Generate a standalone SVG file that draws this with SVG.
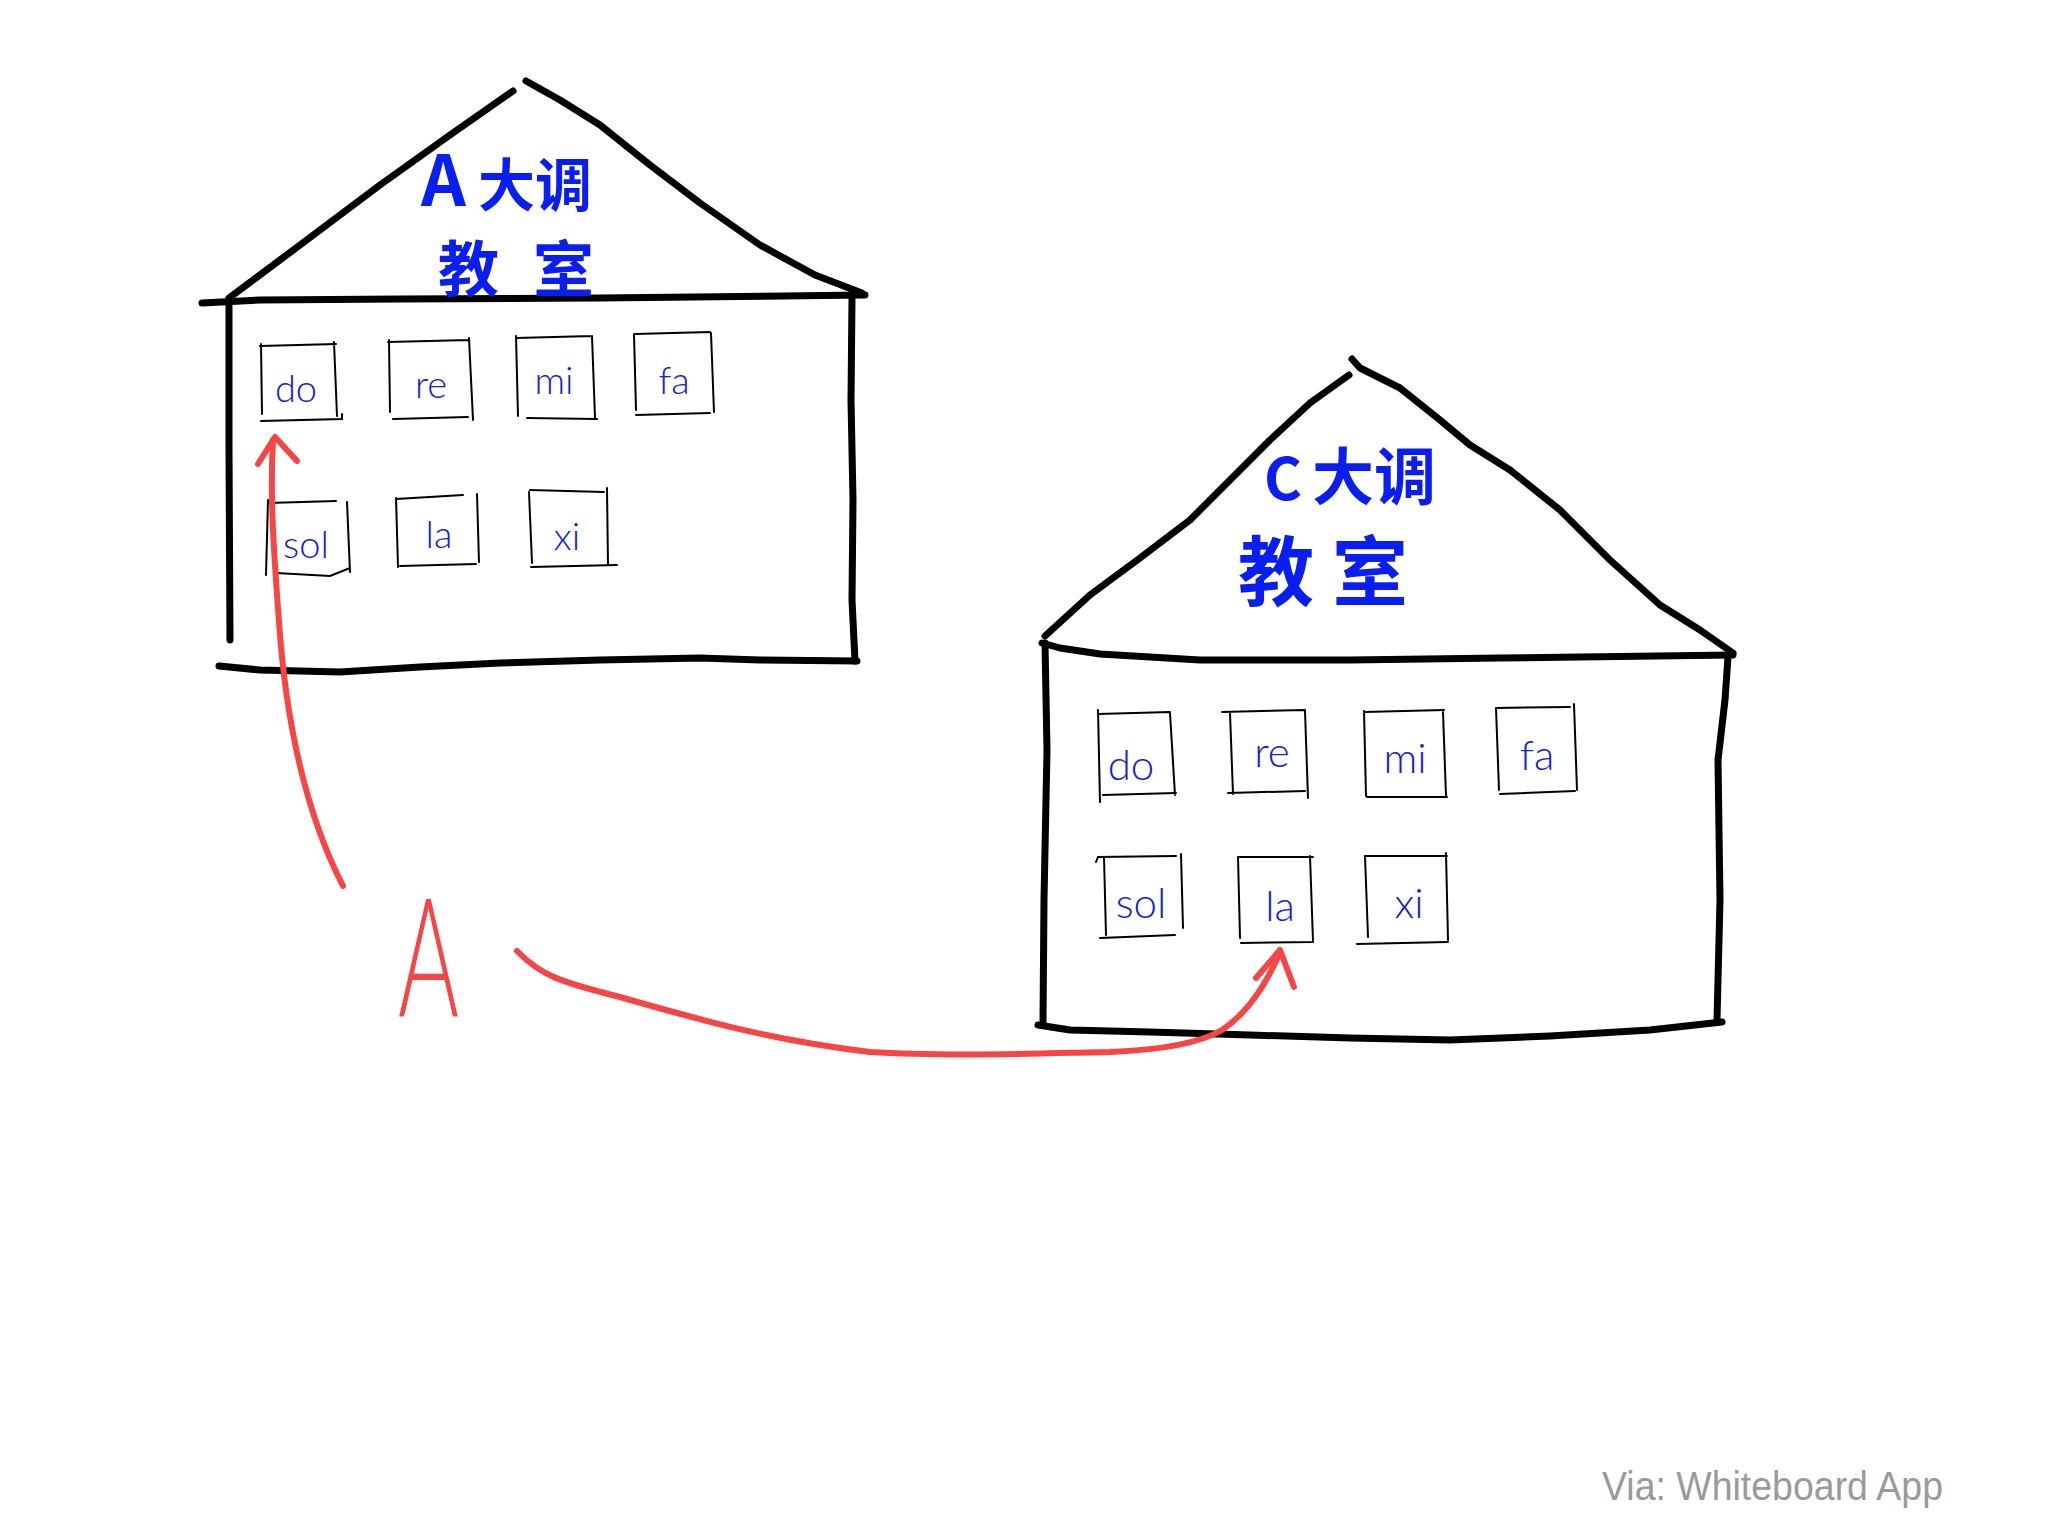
<svg xmlns="http://www.w3.org/2000/svg" width="2048" height="1536" viewBox="0 0 2048 1536">
<style>
.wall{fill:none;stroke:#000;stroke-width:7;stroke-linecap:round;stroke-linejoin:round}
.nb{fill:none;stroke:#000;stroke-width:2;stroke-linecap:round}
.title{font-family:"Noto Sans CJK SC","Noto Sans",sans-serif;font-weight:700;fill:#0b1ef0}
.note{font-family:Lato,"Open Sans","Liberation Sans",sans-serif;font-weight:300;fill:#1020e0;text-anchor:middle}
.red{fill:none;stroke:#f54545;stroke-width:6;stroke-linecap:round;stroke-linejoin:round}
</style>
<rect width="2048" height="1536" fill="#fff"/>

<g id="houseA">
  <path class="wall" d="M229,298 L300,245 L380,185 L450,135 L513,91"/>
  <path class="wall" d="M526,81 L560,100 L600,125 L650,165 L700,203 L760,245 L815,275 L862,293"/>
  <path class="wall" d="M202,303 L260,300 L400,299 L600,298 L865,295"/>
  <path class="wall" d="M229,300 L229,450 L230,640"/>
  <path class="wall" d="M852,298 L851,400 L853,500 L852,600 L855,661"/>
  <path class="wall" d="M219,666 L260,670 L340,672 L420,667 L500,663 L600,660 L700,658 L760,660 L857,661"/>
  <text class="title" font-size="57" y="206"><tspan x="421" font-size="70">A</tspan><tspan x="478">大调</tspan></text>
  <text class="title" font-size="61" y="292"><tspan x="438">教</tspan><tspan x="533">室</tspan></text>
  <g id="A-do"><path class="nb" d="M260,346 L336,344 M261,344 L262,414 M334,342 L337,416 M261,421 L342,419 L342,414"/><text class="note" font-size="38" x="296" y="402">do</text></g>
  <g id="A-re"><path class="nb" d="M388,342 L469,340 M389,340 L390,412 M469,338 L473,420 M393,419 L468,417"/><text class="note" font-size="38" x="431" y="398">re</text></g>
  <g id="A-mi"><path class="nb" d="M516,338 L592,336 M516,336 L518,416 M592,336 L595,418 M527,418 L597,419"/><text class="note" font-size="38" x="554" y="394">mi</text></g>
  <g id="A-fa"><path class="nb" d="M635,334 L710,332 M634,334 L636,410 M711,333 L714,412 M636,415 L710,413"/><text class="note" font-size="38" x="674" y="394">fa</text></g>
  <g id="A-sol"><path class="nb" d="M268,503 L336,501 M268,500 L266,575 M347,502 L350,572 M276,573 L330,576 L350,568"/><text class="note" font-size="38" x="306" y="558">sol</text></g>
  <g id="A-la"><path class="nb" d="M396,499 L463,495 M396,498 L398,567 M477,494 L479,562 M400,566 L476,564"/><text class="note" font-size="38" x="439" y="548">la</text></g>
  <g id="A-xi"><path class="nb" d="M530,490 L604,492 M529,492 L532,563 M607,488 L608,565 M531,567 L617,565"/><text class="note" font-size="38" x="567" y="550">xi</text></g>
</g>

<g id="houseC">
  <path class="wall" d="M1045,636 L1090,595 L1140,558 L1190,520 L1230,480 L1270,440 L1310,403 L1349,375"/>
  <path class="wall" d="M1352,359 L1360,368 L1400,388 L1440,420 L1470,445 L1510,470 L1560,510 L1610,560 L1660,605 L1700,630 L1733,653"/>
  <path class="wall" d="M1042,643 L1060,648 L1100,654 L1200,660 L1350,660 L1500,658 L1733,655"/>
  <path class="wall" d="M1045,643 L1047,750 L1044,900 L1043,1023"/>
  <path class="wall" d="M1728,657 L1725,700 L1718,760 L1720,900 L1717,1020"/>
  <path class="wall" d="M1038,1025 L1070,1030 L1150,1032 L1250,1035 L1350,1038 L1450,1040 L1550,1036 L1650,1030 L1722,1022"/>
  <text class="title" font-size="62" y="500"><tspan x="1264" font-size="58">C</tspan><tspan x="1312">大调</tspan></text>
  <text class="title" font-size="76" y="600"><tspan x="1238">教</tspan><tspan x="1332">室</tspan></text>
  <g id="C-do"><path class="nb" d="M1098,714 L1170,712 M1098,710 L1100,802 M1170,713 L1175,795 M1103,795 L1176,793"/><text class="note" font-size="42" x="1131" y="780">do</text></g>
  <g id="C-re"><path class="nb" d="M1222,712 L1305,710 M1230,713 L1233,794 M1305,711 L1308,798 M1228,793 L1305,791"/><text class="note" font-size="42" x="1272" y="767">re</text></g>
  <g id="C-mi"><path class="nb" d="M1364,712 L1444,710 M1364,711 L1366,796 M1443,712 L1446,796 M1367,797 L1447,797"/><text class="note" font-size="42" x="1405" y="773">mi</text></g>
  <g id="C-fa"><path class="nb" d="M1496,708 L1570,707 M1496,708 L1499,790 M1574,704 L1577,790 M1500,794 L1575,791"/><text class="note" font-size="42" x="1537" y="770">fa</text></g>
  <g id="C-sol"><path class="nb" d="M1096,862 L1098,857 L1176,856 M1104,857 L1106,935 M1181,854 L1183,928 M1100,938 L1175,935"/><text class="note" font-size="42" x="1141" y="918">sol</text></g>
  <g id="C-la"><path class="nb" d="M1238,857 L1313,857 M1238,857 L1240,938 M1310,856 L1313,941 M1241,943 L1313,942"/><text class="note" font-size="42" x="1280" y="921">la</text></g>
  <g id="C-xi"><path class="nb" d="M1366,856 L1447,856 M1365,856 L1368,937 M1446,853 L1448,940 M1357,944 L1448,942"/><text class="note" font-size="42" x="1409" y="918">xi</text></g>
</g>

<g id="labelA">
  <text x="0" y="0" transform="translate(398,1016) scale(0.56,1)" font-family="Lato,'Liberation Sans',sans-serif" font-weight="300" font-size="166" fill="#f54545">A</text>
</g>

<g id="connectors">
  <path class="red" d="M343,886 C305,812 286,722 279,622 C273,542 270,492 273,440"/>
  <path class="red" d="M258,464 L275,437 L297,461"/>
  <path class="red" d="M517,951 C540,975 560,982 620,997 C700,1020 770,1040 870,1052 C950,1057 1050,1053 1110,1052 C1160,1050 1200,1043 1222,1030 C1246,1014 1266,985 1280,952"/>
  <path class="red" d="M1256,978 L1280,950 L1294,987"/>
</g>

<g id="footer">
  <text x="1602" y="1500" font-family="'Liberation Sans',Arial,sans-serif" font-size="40" fill="#9a9a9a" textLength="341" lengthAdjust="spacingAndGlyphs">Via: Whiteboard App</text>
</g>
</svg>
